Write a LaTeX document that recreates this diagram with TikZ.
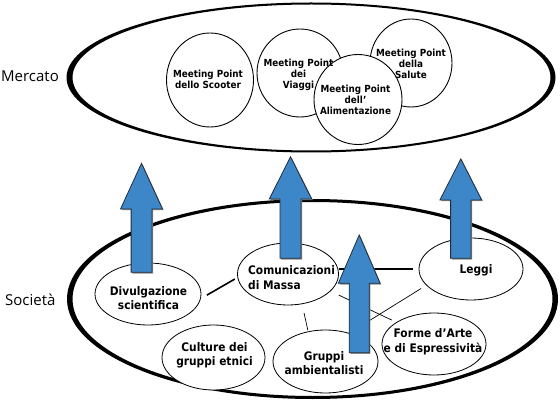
\documentclass[tikz,border=0pt]{standalone}
\usepackage{fontspec}
\setmainfont{DejaVu Sans}
\newfontfamily\labfont{Open Sans}
\newfontfamily\nfont{DejaVu Sans}[FakeStretch=0.9]
\usetikzlibrary{shapes.geometric}
\definecolor{arrowblue}{RGB}{61,135,200}
\definecolor{arrowedge}{RGB}{35,45,60}
\newcommand\blockarr[6]{%
  \fill[arrowshadow,xshift=1.2pt,yshift=-1.2pt] (#1,#2) -- (#1+#5,#3) -- (#1+#6,#3) -- (#1+#6,#4) -- (#1-#6,#4) -- (#1-#6,#3) -- (#1-#5,#3) -- cycle;
  \draw[blockarrow] (#1,#2) -- (#1+#5,#3) -- (#1+#6,#3) -- (#1+#6,#4) -- (#1-#6,#4) -- (#1-#6,#3) -- (#1-#5,#3) -- cycle;}
\begin{document}
\begin{tikzpicture}[x=1pt,y=-1pt,
  mp/.style={ellipse, draw=black, line width=0.9pt, fill=white, inner sep=0pt},
  soc/.style={ellipse, draw=black, line width=0.8pt, fill=white, inner sep=0pt},
  mptext/.style={align=center, font=\nfont\bfseries\fontsize{9.8}{11}\selectfont, inner sep=0pt},
  soctext/.style={align=center, font=\nfont\bfseries\fontsize{11.8}{14.5}\selectfont, inner sep=0pt},
  grp/.style={font=\labfont\fontsize{15}{18}\selectfont, inner sep=0pt},
  thickcon/.style={line width=1.6pt},
  thincon/.style={line width=0.7pt},
  blockarrow/.style={fill=arrowblue, draw=arrowedge, line width=0.8pt, line join=miter},
  arrowshadow/.style={fill=black!45}
]
\useasboundingbox (0,0) rectangle (560,401);
\fill[white] (0,0) rectangle (560,401);

% big container ellipses (variable stroke)
\fill[black, even odd rule] (311,77.5) ellipse [x radius=244.5pt, y radius=75pt]
                           (311.5,77.5) ellipse [x radius=239pt, y radius=73pt];
\fill[black, even odd rule] (312.5,299) ellipse [x radius=245.5pt, y radius=100pt]
                           (312.5,299) ellipse [x radius=240pt, y radius=97pt];

\node[grp, anchor=base west] (mercato) at (1,81.7) {Mercato};
\node[grp, anchor=base west] (societa) at (5,305) {Società};

% Mercato circles
\node[mp, minimum width=87pt, minimum height=94pt] (scooter) at (210,80) {};
\node[mp, minimum width=86pt, minimum height=88pt] (viaggi) at (300,73) {};
\node[mp, minimum width=82pt, minimum height=88pt] (salute) at (411,63) {};
\node[mp, minimum width=88pt, minimum height=90pt] (alim) at (358,99.5) {};

\node[mptext] (scooterT) at (208,79) {Meeting Point\\dello Scooter};
\node[mptext] (viaggiT) at (298.5,74.5) {Meeting Point\\dei\\Viaggi};
\node[mptext] (saluteT) at (411,64) {Meeting Point\\della\\Salute};
\node[mptext] (alimT) at (355.5,100) {Meeting Point\\dell’\\Alimentazione};

% Società ellipses
\node[soc, minimum width=106pt, minimum height=62pt] (div) at (148,294) {};
\node[soc, minimum width=101pt, minimum height=62pt] (com) at (288,274) {};
\node[soc, minimum width=104pt, minimum height=62pt] (leggi) at (471,269) {};
\node[soc, minimum width=103pt, minimum height=65pt] (cult) at (213.5,357.5) {};
\node[soc, minimum width=105pt, minimum height=63pt] (grup) at (325.5,361.5) {};
\node[soc, minimum width=104pt, minimum height=62pt] (forme) at (434,344) {};

% connectors
\draw[thickcon, shorten <=7pt, shorten >=3pt] (div.-5) -- (com.184);
\draw[thickcon, shorten >=6pt] (com.east |- leggi.west) -- (leggi.west);
\draw[thincon, shorten <=9pt, shorten >=5pt] (com.-22) -- (forme.150);
\draw[thincon, shorten <=6pt] (leggi.200) -- (grup.50);
\draw[thincon, shorten <=9pt, shorten >=1pt] (com.-65) -- (grup.120);

\node[soctext] (divT) at (148.5,298) {Divulgazione\\scientifica};
\node[soctext, align=left, anchor=west] (comT) at (248,277.5) {Comunicazioni\\di Massa};
\node[soctext] (leggiT) at (476,270) {Leggi};
\node[soctext] (cultT) at (214.5,355.5) {Culture dei\\gruppi etnici};
\node[soctext] (grupT) at (324,363) {Gruppi\\ambientalisti};
\node[soctext] (formeT) at (433,341.5) {Forme d’Arte\\e di Espressività};

% block arrows
\blockarr{141.5}{163.3}{209}{272.3}{21}{10.4}
\blockarr{290.5}{156.7}{199}{258.3}{21.2}{10.5}
\blockarr{460.8}{159}{200}{258.3}{20.9}{10.2}
\blockarr{359.2}{235}{283.3}{352.7}{20.9}{10}
\end{tikzpicture}
\end{document}
